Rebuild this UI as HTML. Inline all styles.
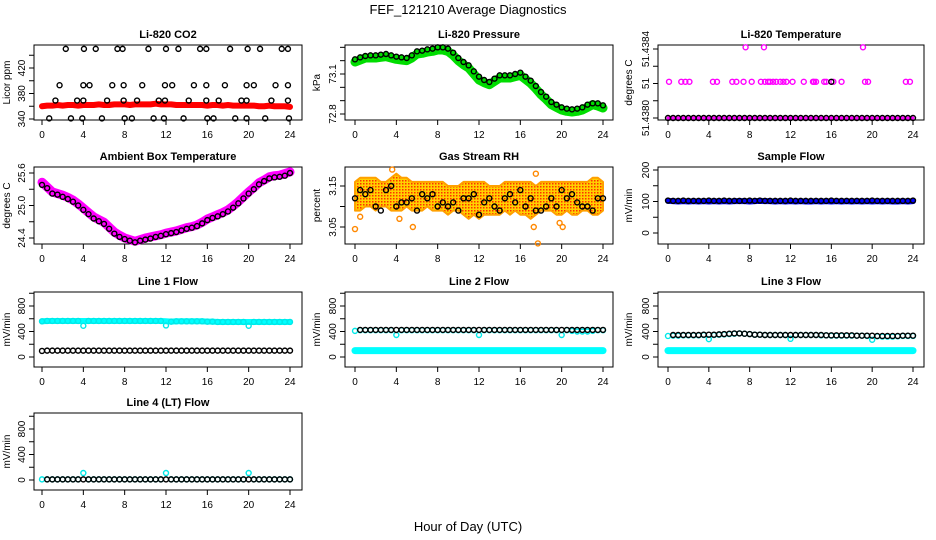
<!DOCTYPE html>
<html><head><meta charset="utf-8">
<style>
html,body{margin:0;padding:0;background:#fff;}
svg{display:block;font-family:"Liberation Sans",sans-serif;}
</style></head>
<body>
<svg id="chart" width="936" height="540" viewBox="0 0 936 540">
<defs>
<pattern id="rhpat" width="3" height="3" patternUnits="userSpaceOnUse">
<rect width="3" height="3" fill="#ffd000"/><rect width="1.5" height="1.5" fill="#ff3000"/>
</pattern>
</defs>
<text x="468" y="14" text-anchor="middle" font-size="13">FEF_121210  Average Diagnostics</text>
<text x="468" y="531" text-anchor="middle" font-size="13">Hour of Day (UTC)</text>
</svg>
<script>
const H = [0,0.5,1,1.5,2,2.5,3,3.5,4,4.5,5,5.5,6,6.5,7,7.5,8,8.5,9,9.5,10,10.5,11,11.5,12,12.5,13,13.5,14,14.5,15,15.5,16,16.5,17,17.5,18,18.5,19,19.5,20,20.5,21,21.5,22,22.5,23,23.5,24];
const xTicks = [0,4,8,12,16,20,24];

const co2Band = [360,361,361,362,361,362,362,361,362,362,362,363,362,362,363,363,363,362,363,363,363,363,364,363,363,363,362,362,362,362,362,362,361,362,362,361,362,361,361,361,361,361,360,360,361,360,360,360,359];
const co2PtHours = [2.3,4.06,5.2,7.3,7.8,10.3,12,13.2,15.3,15.9,18.2,19.9,21.1,23.2,23.8, 1.7,4.0,4.6,6.8,7.9,9.7,11.9,12.6,14.7,15.9,17.7,19.8,20.5,22.6,23.8, 1.3,3.4,4.0,6.3,7.9,9.2,11.3,11.9,14.2,15.9,17.1,19.3,19.8,22.2,23.8, 0.7,2.8,3.9,5.8,8.0,8.7,10.8,11.8,13.7,16.0,16.6,18.7,19.8,21.6,23.9];
const co2PtVals = [450,450,450,450,450,450,450,450,450,450,450,450,450,450,450, 393,393,393,393,393,393,393,393,393,393,393,393,393,393,393, 369,369,369,369,369,369,369,369,369,369,369,369,369,369,369, 341,341,341,341,341,341,341,341,341,341,341,341,341,341,341];

const pressBand = [73.19,73.205,73.22,73.22,73.22,73.225,73.23,73.22,73.21,73.205,73.20,73.22,73.25,73.255,73.265,73.27,73.28,73.28,73.27,73.24,73.20,73.17,73.145,73.10,73.055,73.035,73.02,73.045,73.07,73.07,73.07,73.08,73.09,73.06,73.03,72.99,72.945,72.91,72.87,72.85,72.83,72.82,72.815,72.82,72.83,72.85,72.87,72.86,72.845];
const pressDots = [73.21,73.225,73.235,73.24,73.24,73.245,73.25,73.24,73.23,73.225,73.22,73.24,73.27,73.275,73.285,73.29,73.30,73.30,73.29,73.26,73.22,73.19,73.165,73.12,73.08,73.055,73.04,73.065,73.09,73.09,73.09,73.10,73.11,73.08,73.05,73.01,72.965,72.93,72.89,72.87,72.85,72.84,72.835,72.84,72.85,72.87,72.88,72.88,72.865];

const tempBase = [51.4380,51.4380,51.4380,51.4380,51.4380,51.4380,51.4380,51.4380,51.4380,51.4380,51.4380,51.4380,51.4380,51.4380,51.4380,51.4380,51.4380,51.4380,51.4380,51.4380,51.4380,51.4380,51.4380,51.4380,51.4380,51.4380,51.4380,51.4380,51.4380,51.4380,51.4380,51.4380,51.4380,51.4380,51.4380,51.4380,51.4380,51.4380,51.4380,51.4380,51.4380,51.4380,51.4380,51.4380,51.4380,51.4380,51.4380,51.4380,51.4380];
const tempMidHours = [0.1,1.3,1.7,2.1,4.4,4.8,6.3,6.7,7.4,8.2,9.1,9.5,9.8,10.0,10.3,10.6,11.0,11.3,11.6,12.2,13.3,14.2,14.3,14.5,15.3,15.5,16.2,17.0,19.3,19.6,23.3,23.7];
const tempMidVals = [51.43821,51.43821,51.43821,51.43821,51.43821,51.43821,51.43821,51.43821,51.43821,51.43821,51.43821,51.43821,51.43821,51.43821,51.43821,51.43821,51.43821,51.43821,51.43821,51.43821,51.43821,51.43821,51.43821,51.43821,51.43821,51.43821,51.43821,51.43821,51.43821,51.43821,51.43821,51.43821];
const tempTopHours = [7.6,9.4,19.1];
const tempTopVals = [51.43841,51.43841,51.43841];

const ambBand = [25.43,25.34,25.25,25.22,25.19,25.15,25.10,25.03,24.95,24.87,24.79,24.74,24.69,24.60,24.51,24.45,24.40,24.37,24.34,24.37,24.40,24.42,24.44,24.46,24.49,24.51,24.53,24.56,24.59,24.61,24.64,24.69,24.75,24.79,24.83,24.87,24.92,24.99,25.07,25.16,25.25,25.33,25.42,25.47,25.53,25.55,25.56,25.59,25.62];
const ambDots = [25.38,25.32,25.22,25.20,25.16,25.12,25.07,25.00,24.92,24.84,24.76,24.71,24.66,24.57,24.48,24.42,24.38,24.35,24.32,24.35,24.37,24.39,24.42,24.44,24.47,24.49,24.51,24.54,24.57,24.59,24.62,24.67,24.73,24.77,24.80,24.84,24.89,24.96,25.04,25.13,25.22,25.30,25.39,25.45,25.50,25.52,25.53,25.55,25.60];

const rhUpper = [3.16,3.17,3.17,3.17,3.17,3.16,3.16,3.17,3.18,3.17,3.17,3.16,3.16,3.16,3.16,3.16,3.16,3.16,3.15,3.15,3.15,3.16,3.16,3.16,3.16,3.16,3.15,3.15,3.15,3.16,3.16,3.16,3.16,3.16,3.16,3.15,3.16,3.16,3.16,3.16,3.16,3.16,3.16,3.16,3.16,3.16,3.17,3.17,3.16];
const rhLower = [3.09,3.09,3.10,3.10,3.09,3.10,3.10,3.09,3.09,3.09,3.10,3.09,3.09,3.09,3.10,3.09,3.09,3.09,3.08,3.09,3.09,3.08,3.07,3.08,3.07,3.08,3.08,3.08,3.08,3.09,3.08,3.09,3.08,3.08,3.07,3.08,3.09,3.09,3.09,3.08,3.08,3.09,3.08,3.08,3.09,3.09,3.08,3.08,3.09];
const rhDots = [3.12,3.14,3.13,3.14,3.10,3.09,3.14,3.15,3.10,3.11,3.11,3.12,3.09,3.13,3.12,3.13,3.10,3.11,3.10,3.11,3.09,3.12,3.12,3.13,3.08,3.11,3.12,3.10,3.09,3.12,3.13,3.11,3.14,3.10,3.12,3.09,3.09,3.10,3.12,3.10,3.14,3.12,3.13,3.11,3.10,3.10,3.09,3.12,3.12];
const rhOutHours = [0,0.5,3.6,4.3,5.6,17.5,17.7,17.3,19.8,20.1];
const rhOutVals = [3.045,3.075,3.19,3.07,3.05,3.18,3.01,3.05,3.06,3.05];

const sampBand = [102,101,100,101,100,101,100,101,100,101,100,101,100,101,101,101,100,101,102,101,101,100,101,100,101,100,101,100,100,101,100,101,100,101,100,101,100,101,100,101,100,101,100,101,100,100,101,100,101];
const sampDots = [103,102,102,103,102,102,102,102,103,102,102,103,102,102,102,102,103,102,103,102,102,102,102,102,103,102,102,102,102,102,102,102,103,102,102,102,102,102,102,102,103,102,102,102,102,102,102,102,103];

const l1CyanBand = [560,565,565,565,565,565,565,565,565,565,565,565,565,565,565,565,565,565,565,565,565,565,565,565,560,555,560,560,560,560,560,560,555,555,550,550,550,550,550,550,550,550,550,550,550,550,550,550,550];
const l1Cyan = [560,565,565,565,565,565,565,565,490,565,565,565,565,565,565,565,565,565,565,565,565,565,565,565,495,555,560,560,560,560,560,560,555,555,550,550,550,550,550,550,490,550,550,550,550,550,550,550,550];
const l1Black = [95,100,100,100,100,100,100,100,100,100,100,100,100,100,100,100,100,100,100,100,100,100,100,100,100,100,100,100,100,100,100,100,100,100,100,100,100,100,100,100,100,100,100,100,100,100,100,100,100];
const l2Cyan = [100,100,100,100,100,100,100,100,100,100,100,100,100,100,100,100,100,100,100,100,100,100,100,100,100,100,100,100,100,100,100,100,100,100,100,100,100,100,100,100,100,100,100,100,100,100,100,100,100];
const l2CyanDots = [410,420,420,420,420,420,420,420,345,420,420,420,420,420,420,420,420,420,420,420,420,420,420,420,345,420,420,420,420,420,420,420,420,420,420,420,420,420,420,420,345,420,410,400,400,400,410,420,420];
const l2Black = [420,425,425,425,425,425,425,425,425,425,425,425,425,425,425,425,425,425,425,425,425,425,425,425,425,425,425,425,425,425,425,425,425,425,425,425,425,425,425,425,425,425,425,425,425,425,425,425,425];
const l3Cyan = [100,100,100,100,100,100,100,100,100,100,100,100,100,100,100,100,100,100,100,100,100,100,100,100,100,100,100,100,100,100,100,100,100,100,100,100,100,100,100,100,100,100,100,100,100,100,100,100,100];
const l3CyanDots = [330,335,335,340,340,340,340,345,280,345,350,355,360,365,370,365,360,350,350,345,345,345,345,345,285,345,345,345,345,345,340,340,335,335,335,335,335,335,335,330,270,325,320,320,320,325,330,330,330];
const l3Black = [340,345,345,345,345,345,345,350,350,350,355,360,365,370,370,365,360,350,350,345,345,345,345,345,345,345,345,345,345,345,345,340,340,340,340,340,340,335,335,335,335,330,330,330,330,330,335,335,335];
const l4Cyan = [10,10,10,10,10,10,10,10,110,10,10,10,10,10,10,10,10,10,10,10,10,10,10,10,110,10,10,10,10,10,10,10,10,10,10,10,10,10,10,10,110,10,10,10,10,10,10,10,10];
const l4Black = [10,10,10,10,10,10,10,10,10,10,10,10,10,10,10,10,10,10,10,10,10,10,10,10,10,10,10,10,10,10,10,10,10,10,10,10,10,10,10,10,10,10,10,10,10,10,10,10,10];

const NS = 'http://www.w3.org/2000/svg';
const svg = document.getElementById('chart');
function mk(tag, attrs, parent){const e=document.createElementNS(NS,tag);for(const k in attrs)e.setAttribute(k,attrs[k]);(parent||svg).appendChild(e);return e;}

const COLS = [{l:34,r:302,x0:42,x24:290,yt:10},{l:345,r:613,x0:355,x24:603,yt:320},{l:658,r:924,x0:668,x24:913,yt:632}];
const ROWS = [{t:45,b:120},{t:167,b:244},{t:292,b:367},{t:413,b:490}];

function panel(key, col, row, title, ylab, v1, p1, v2, p2, ticks, labels){
  const C=COLS[col], R=ROWS[row];
  const g=mk('g',{});
  
  
  const sx=h=>C.x0+(C.x24-C.x0)*h/24;
  const sy=v=>p1+(v-v1)*(p2-p1)/(v2-v1);
  const box=mk('rect',{x:C.l,y:R.t,width:C.r-C.l,height:R.b-R.t,fill:'none',stroke:'#000','stroke-width':1},g);
  
  
  const tt=mk('text',{x:(C.l+C.r)/2,y:R.t-7,'text-anchor':'middle','font-size':11,'font-weight':'bold'},g);
  tt.textContent=title;
  
  
  xTicks.forEach(h=>{
    mk('line',{x1:sx(h),x2:sx(h),y1:R.b,y2:R.b+5,stroke:'#000'},g);
    const t=mk('text',{x:sx(h),y:R.b+18,'text-anchor':'middle','font-size':10},g);
    t.textContent=h;
    
    
  });
  ticks.forEach((v,i)=>{
    const y=sy(v);
    mk('line',{x1:C.l-5,x2:C.l,y1:y,y2:y,stroke:'#000'},g);
    if(labels[i]){
      const t=mk('text',{x:0,y:0,'text-anchor':'middle','font-size':10,transform:`translate(${C.l-9},${y}) rotate(-90)`},g);
      t.textContent=labels[i];
      
      
    }
  });
  const yl=mk('text',{x:0,y:0,'text-anchor':'middle','font-size':10,transform:`translate(${C.yt},${(R.t+R.b)/2}) rotate(-90)`},g);
  yl.textContent=ylab;
  
  
  return {g,sx,sy};
}
function band(P,key,hours,vals,color,w){
  const pl=mk('polyline',{points:hours.map((h,i)=>P.sx(h)+','+P.sy(vals[i])).join(' '),fill:'none',stroke:color,'stroke-width':w,'stroke-linecap':'round','stroke-linejoin':'round'},P.g);
  
  
}
function dots(P,key,hours,vals,color){
  const g=mk('g',{},P.g);
  
  
  hours.forEach((h,i)=>{
    const c=mk('circle',{cx:P.sx(h),cy:P.sy(vals[i]),r:2.5,fill:'none',stroke:color,'stroke-width':1.4},g);
    
    
  });
}

let P=panel('co2',0,0,'Li-820 CO2','Licor ppm',340,119,420,68,[340,360,380,400,420,440],['340','','380','','420','']);
band(P,'co2-band',H,co2Band,'#ff0000',6);
dots(P,'co2-points',co2PtHours,co2PtVals,'#000');
P=panel('pressure',1,0,'Li-820 Pressure','kPa',72.8,114,73.1,74,[72.8,72.9,73.0,73.1,73.2,73.3],['72.8','','','73.1','','']);
band(P,'pressure-band',H,pressBand,'#00dd00',9);
dots(P,'pressure-points',H,pressDots,'#000');
P=panel('li820-temp',2,0,'Li-820 Temperature','degrees C',51.4380,118,51.4384,49,[51.4380,51.4381,51.4382,51.4383,51.4384],['51.4380','','51','','51.4384']);
band(P,'temp-band',H,tempBase,'#ff00ff',3);
dots(P,'temp-mid-points',tempMidHours,tempMidVals,'#ff00ff');
dots(P,'temp-top-points',tempTopHours,tempTopVals,'#ff00ff');
dots(P,'temp-black-points',H,tempBase,'#000');
dots(P,'temp-black-mid',[16],[51.43821],'#000');
P=panel('ambient',0,1,'Ambient Box Temperature','degrees C',24.4,238,25.6,173,[24.4,24.7,25.0,25.3,25.6],['24.4','','25.0','','25.6']);
band(P,'ambient-band',H,ambBand,'#ff00ff',9);
dots(P,'ambient-points',H,ambDots,'#000');
P=panel('rh',1,1,'Gas Stream RH','percent',3.15,186,3.05,227,[3.05,3.10,3.15],['3.05','','3.15']);
{
  const pts=H.map((h,i)=>P.sx(h)+','+P.sy(rhUpper[i])).concat(H.slice().reverse().map((h,j)=>{const i=H.length-1-j;return P.sx(h)+','+P.sy(rhLower[i]);}));
  const pg=mk('polygon',{points:pts.join(' '),fill:'url(#rhpat)',stroke:'#ffa000','stroke-width':2,'stroke-linejoin':'round'},P.g);
  
  
}
dots(P,'rh-outliers',rhOutHours,rhOutVals,'#ff8800');
dots(P,'rh-points',H,rhDots,'#000');
P=panel('sample-flow',2,1,'Sample Flow','mV/min',0,233,200,170,[0,50,100,150,200],['0','','100','','200']);
band(P,'sample-band',H,sampBand,'#0000ff',6);
dots(P,'sample-points',H,sampDots,'#000');
const fT=[0,200,400,600,800,1000], fL=['0','','400','','800',''];
P=panel('line1',0,2,'Line 1 Flow','mV/min',0,357,800,306,fT,fL);
band(P,'line1-cyan-band',H,l1CyanBand,'#00ffff',6);
dots(P,'line1-cyan-points',H,l1Cyan,'#00e8e8');
dots(P,'line1-black-points',H,l1Black,'#000');
P=panel('line2',1,2,'Line 2 Flow','mV/min',0,357,800,306,fT,fL);
band(P,'line2-cyan-band',H,l2Cyan,'#00ffff',7);
dots(P,'line2-cyan-points',H,l2CyanDots,'#00e8e8');
dots(P,'line2-black-points',H.slice(1),l2Black.slice(1),'#000');
P=panel('line3',2,2,'Line 3 Flow','mV/min',0,357,800,306,fT,fL);
band(P,'line3-cyan-band',H,l3Cyan,'#00ffff',7);
dots(P,'line3-cyan-points',H,l3CyanDots,'#00e8e8');
dots(P,'line3-black-points',H.slice(1),l3Black.slice(1),'#000');
P=panel('line4',0,3,'Line 4 (LT) Flow','mV/min',0,480,800,429,fT,fL);
dots(P,'line4-cyan-points',H,l4Cyan,'#00e8e8');
dots(P,'line4-black-points',H.slice(1),l4Black.slice(1),'#000');
</script>
</body></html>
